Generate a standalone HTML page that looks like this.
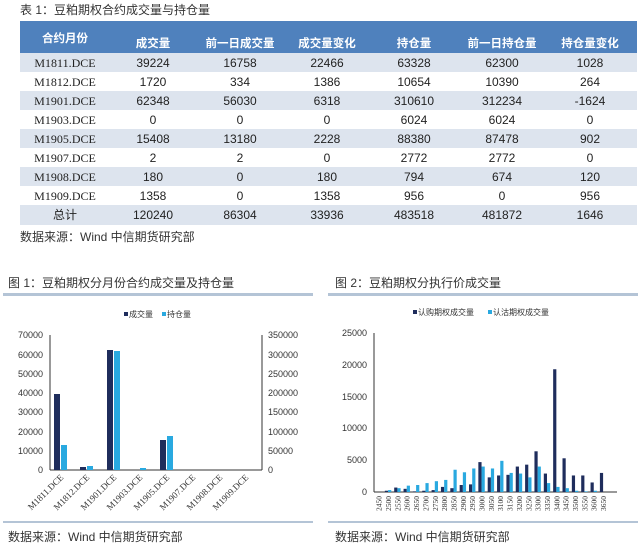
<!DOCTYPE html><html><head><meta charset="utf-8"><style>
body{margin:0;background:#fff;width:640px;height:546px;overflow:hidden;font-family:"Liberation Sans","Noto Sans CJK SC",sans-serif}
</style></head><body>
<svg width="640" height="546" xmlns="http://www.w3.org/2000/svg" font-family="Liberation Sans, Noto Sans CJK SC, sans-serif">
<text x="20" y="14" font-size="12" fill="#333">表 1：豆粕期权合约成交量与持仓量</text>
<rect x="20" y="21" width="617" height="32" fill="#4f81bd"/>
<g font-size="11.5" fill="#fff" font-weight="bold" text-anchor="middle">
<text x="65" y="42">合约月份</text><text x="153" y="47">成交量</text><text x="240" y="47">前一日成交量</text><text x="327" y="47">成交量变化</text><text x="414" y="47">持仓量</text><text x="502" y="47">前一日持仓量</text><text x="590" y="47">持仓量变化</text>
</g>
<g fill="#dde4ee">
<rect x="20" y="53" width="617" height="19"/><rect x="20" y="91" width="617" height="19"/><rect x="20" y="129" width="617" height="19"/><rect x="20" y="167" width="617" height="19"/><rect x="20" y="205" width="617" height="20"/>
</g>
<g font-size="12" fill="#222" text-anchor="middle">
<g font-family="Liberation Serif, serif"><text x="65" y="67">M1811.DCE</text><text x="65" y="86">M1812.DCE</text><text x="65" y="105">M1901.DCE</text><text x="65" y="124">M1903.DCE</text><text x="65" y="143">M1905.DCE</text><text x="65" y="162">M1907.DCE</text><text x="65" y="181">M1908.DCE</text><text x="65" y="200">M1909.DCE</text></g>
<text x="65" y="219">总计</text>
<text x="153" y="67">39224</text><text x="240" y="67">16758</text><text x="327" y="67">22466</text><text x="414" y="67">63328</text><text x="502" y="67">62300</text><text x="590" y="67">1028</text>
<text x="153" y="86">1720</text><text x="240" y="86">334</text><text x="327" y="86">1386</text><text x="414" y="86">10654</text><text x="502" y="86">10390</text><text x="590" y="86">264</text>
<text x="153" y="105">62348</text><text x="240" y="105">56030</text><text x="327" y="105">6318</text><text x="414" y="105">310610</text><text x="502" y="105">312234</text><text x="590" y="105">-1624</text>
<text x="153" y="124">0</text><text x="240" y="124">0</text><text x="327" y="124">0</text><text x="414" y="124">6024</text><text x="502" y="124">6024</text><text x="590" y="124">0</text>
<text x="153" y="143">15408</text><text x="240" y="143">13180</text><text x="327" y="143">2228</text><text x="414" y="143">88380</text><text x="502" y="143">87478</text><text x="590" y="143">902</text>
<text x="153" y="162">2</text><text x="240" y="162">2</text><text x="327" y="162">0</text><text x="414" y="162">2772</text><text x="502" y="162">2772</text><text x="590" y="162">0</text>
<text x="153" y="181">180</text><text x="240" y="181">0</text><text x="327" y="181">180</text><text x="414" y="181">794</text><text x="502" y="181">674</text><text x="590" y="181">120</text>
<text x="153" y="200">1358</text><text x="240" y="200">0</text><text x="327" y="200">1358</text><text x="414" y="200">956</text><text x="502" y="200">0</text><text x="590" y="200">956</text>
<text x="153" y="219">120240</text><text x="240" y="219">86304</text><text x="327" y="219">33936</text><text x="414" y="219">483518</text><text x="502" y="219">481872</text><text x="590" y="219">1646</text>
</g>
<text x="20" y="241" font-size="12" fill="#333">数据来源：Wind  中信期货研究部</text>

<!-- chart 1 -->
<text x="8" y="287" font-size="12" fill="#333">图 1：豆粕期权分月份合约成交量及持仓量</text>
<rect x="3" y="293" width="310" height="3" fill="#b4c4d6"/>
<rect x="124" y="312" width="4" height="4" fill="#1f2d5c"/><text x="129" y="317" font-size="8" fill="#333">成交量</text>
<rect x="162" y="312" width="4" height="4" fill="#29a9e0"/><text x="167" y="317" font-size="8" fill="#333">持仓量</text>
<g font-size="9" fill="#333" text-anchor="end">
<text x="43" y="338">70000</text><text x="43" y="358">60000</text><text x="43" y="377">50000</text><text x="43" y="396">40000</text><text x="43" y="415">30000</text><text x="43" y="435">20000</text><text x="43" y="454">10000</text><text x="43" y="473">0</text>
</g>
<g font-size="9" fill="#333"><text x="268" y="338">350000</text><text x="268" y="358">300000</text><text x="268" y="377">250000</text><text x="268" y="396">200000</text><text x="268" y="415">150000</text><text x="268" y="435">100000</text><text x="268" y="454">50000</text><text x="268" y="473">0</text></g>
<g stroke="#333" stroke-width="1"><line x1="50" y1="335" x2="50" y2="470"/><line x1="262" y1="335" x2="262" y2="470"/><line x1="50" y1="470" x2="262" y2="470"/></g>
<g fill="#1f2d5c">
<rect x="54" y="394" width="6" height="76"/><rect x="80" y="467" width="6" height="3"/><rect x="107" y="350" width="6" height="120"/><rect x="160" y="440" width="6" height="30"/>
</g>
<g fill="#29a9e0">
<rect x="61" y="445" width="6" height="25"/><rect x="87" y="466" width="6" height="4"/><rect x="114" y="351" width="6" height="119"/><rect x="140" y="468" width="6" height="2"/><rect x="167" y="436" width="6" height="34"/>
</g>
<g font-size="9" fill="#333" font-family="Liberation Serif, serif" text-anchor="end">
<text transform="translate(64,478) rotate(-45)">M1811.DCE</text><text transform="translate(90,478) rotate(-45)">M1812.DCE</text><text transform="translate(117,478) rotate(-45)">M1901.DCE</text><text transform="translate(143,478) rotate(-45)">M1903.DCE</text><text transform="translate(170,478) rotate(-45)">M1905.DCE</text><text transform="translate(196,478) rotate(-45)">M1907.DCE</text><text transform="translate(223,478) rotate(-45)">M1908.DCE</text><text transform="translate(249,478) rotate(-45)">M1909.DCE</text>
</g>
<rect x="3" y="521" width="310" height="2" fill="#b4c4d6"/>
<text x="8" y="541" font-size="12" fill="#333">数据来源：Wind  中信期货研究部</text>

<!-- chart 2 -->
<text x="335" y="287" font-size="12" fill="#333">图 2：豆粕期权分执行价成交量</text>
<rect x="328" y="293" width="310" height="3" fill="#b4c4d6"/>
<rect x="413" y="310" width="4" height="4" fill="#1f2d5c"/><text x="418" y="315" font-size="8" fill="#333">认购期权成交量</text>
<rect x="488" y="310" width="4" height="4" fill="#29a9e0"/><text x="493" y="315" font-size="8" fill="#333">认沽期权成交量</text>
<g font-size="9" fill="#333" text-anchor="end">
<text x="367" y="336">25000</text><text x="367" y="368">20000</text><text x="367" y="400">15000</text><text x="367" y="431">10000</text><text x="367" y="463">5000</text><text x="367" y="495">0</text>
</g>
<g stroke="#333"><line x1="374" y1="333" x2="374" y2="492"/><line x1="374" y1="492" x2="617" y2="492"/></g>
<g id="bars"></g>
<g id="labs" font-size="7.5" fill="#333" font-family="Liberation Serif, serif"></g>
<rect x="328" y="521" width="310" height="2" fill="#b4c4d6"/>
<text x="335" y="541" font-size="12" fill="#333">数据来源：Wind  中信期货研究部</text>
</svg>
<script>
var c=[0,200,700,500,100,200,300,800,600,1100,1200,4700,2300,2600,2700,4000,4300,6400,2900,19300,5300,2600,2600,1500,3000];
var p=[0,300,600,1000,1100,1400,1700,1900,3500,3100,3700,4000,3700,4900,3000,2900,2300,4000,1400,800,600,200,100,200,0];
var ns="http://www.w3.org/2000/svg",b=document.getElementById("bars"),l=document.getElementById("labs");
var w=9.35,s=159/25000;
for(var i=0;i<25;i++){var x=374+i*w;
[[c[i],"#1f2d5c",1.5],[p[i],"#29a9e0",4.7]].forEach(function(a){var h=a[0]*s;if(h<=0)return;var r=document.createElementNS(ns,"rect");r.setAttribute("x",x+a[2]);r.setAttribute("y",492-h);r.setAttribute("width",3.2);r.setAttribute("height",h);r.setAttribute("fill",a[1]);b.appendChild(r);});
var t=document.createElementNS(ns,"text");t.setAttribute("transform","translate("+(x+w/2+3)+",496) rotate(-90)");t.setAttribute("text-anchor","end");t.textContent=2450+i*50;l.appendChild(t);}
</script>
</body></html>
